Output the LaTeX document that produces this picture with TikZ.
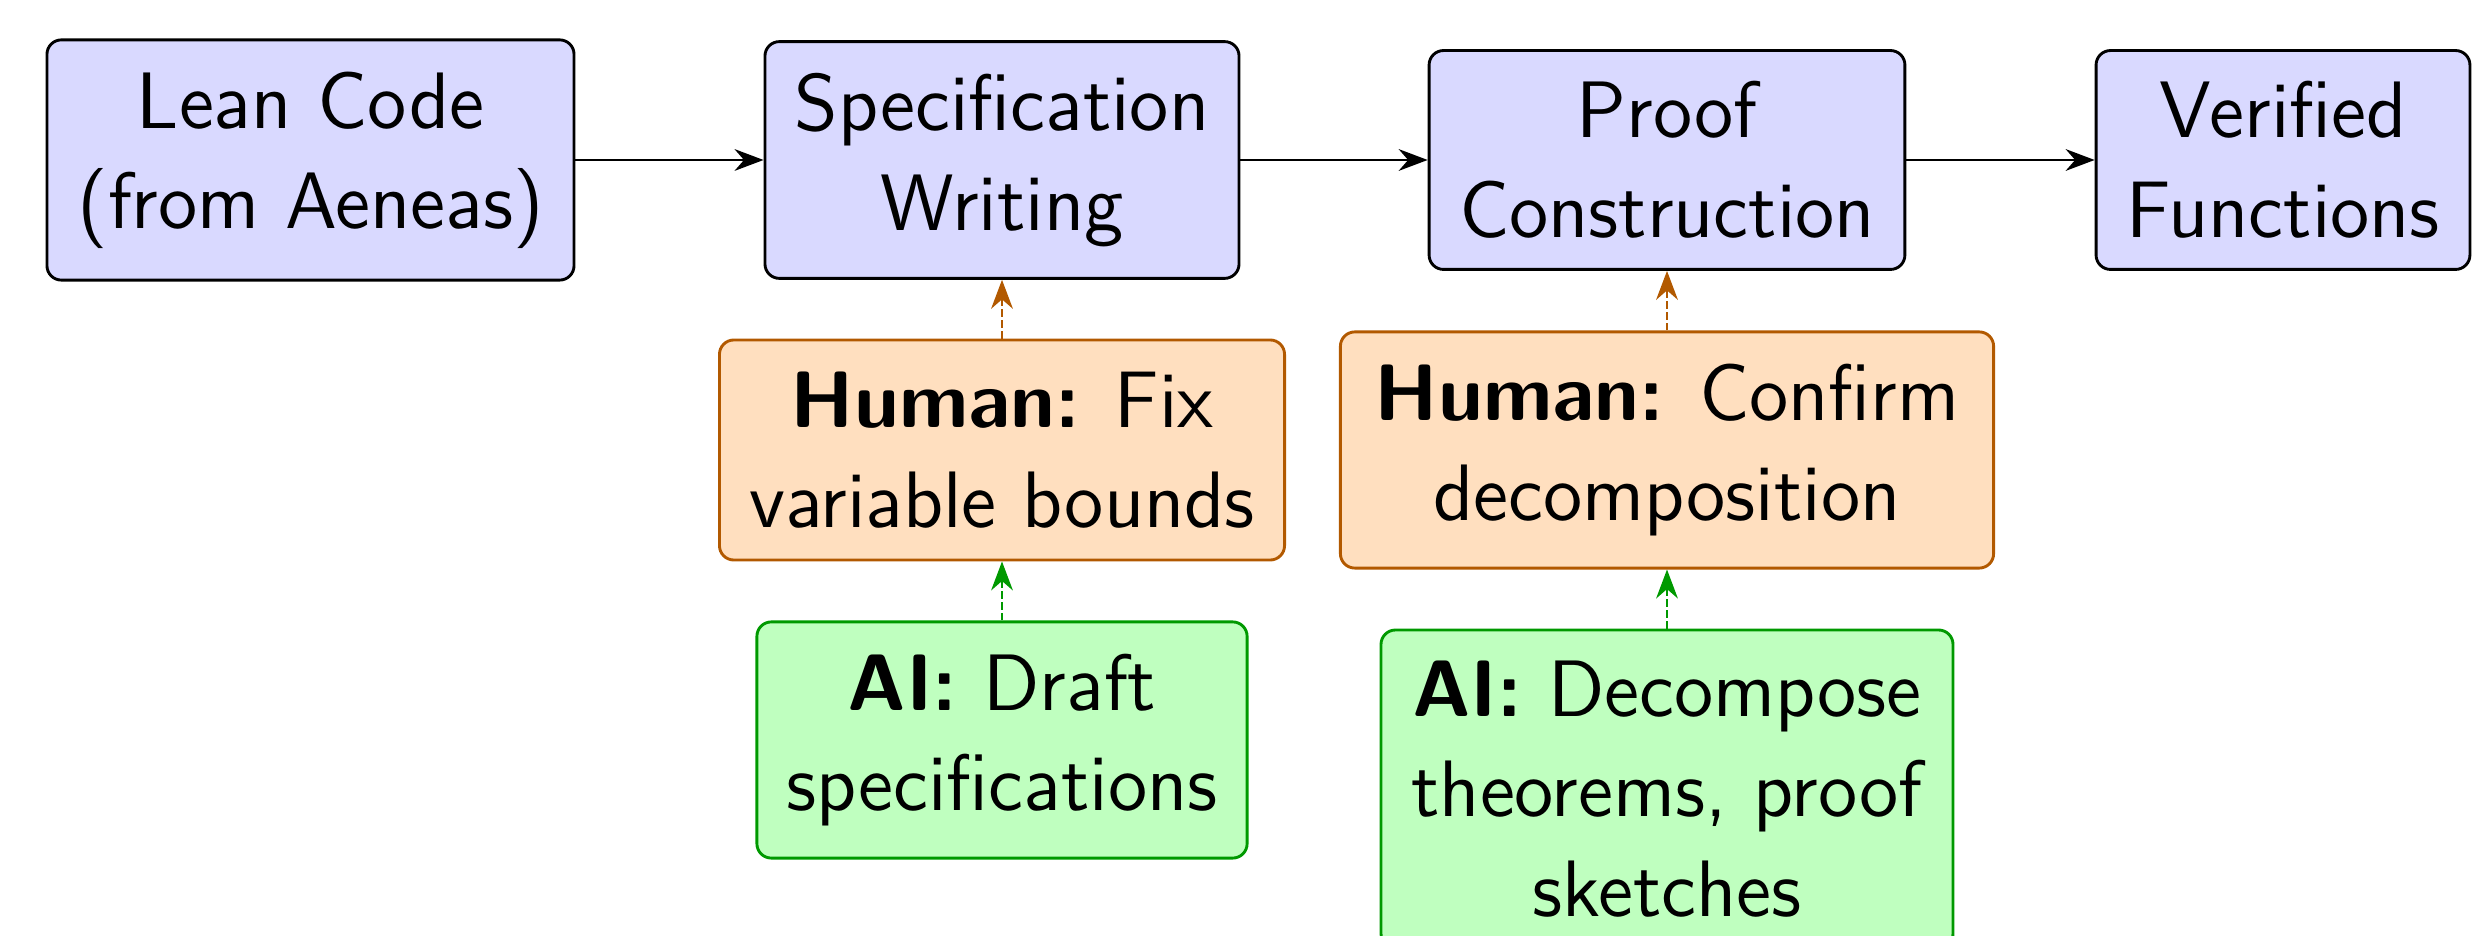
\documentclass[tikz,border=0pt]{standalone}
\usetikzlibrary{arrows.meta}

\definecolor{stepfill}{rgb}{0.85,0.85,1}
\colorlet{humanfill}{orange!25}
\colorlet{humanline}{orange!70!black}
\colorlet{aifill}{green!25}
\colorlet{ailine}{green!60!black}

\tikzset{
  box/.style={rounded corners=2.5pt, align=center, line width=0.5pt,
    inner xsep=1pt, inner ysep=2pt,
    font=\sffamily\fontsize{13.9}{17.4}\selectfont},
  stepbox/.style={box, draw=black, fill=stepfill},
  humanbox/.style={box, draw=humanline, fill=humanfill},
  aibox/.style={box, draw=ailine, fill=aifill},
  flow/.style={-{Stealth}, line width=0.45pt, black},
  assist/.style={-{Stealth}, line width=0.45pt, dash pattern=on 1.25pt off 0.65pt},
}

\begin{document}
\begin{tikzpicture}[x=0.17360pt, y=-0.17360pt]
  \useasboundingbox (0,0) rectangle (2477,936);
  \clip (0,0) rectangle (2477,936);

  % main pipeline
  \node[stepbox, minimum width=91.5pt, minimum height=41.7pt] (lean) at (310.5,160)
    {Lean Code\\(from Aeneas)};
  \node[stepbox, minimum width=82.3pt, minimum height=41.1pt] (spec) at (1002,160)
    {Specification\\Writing};
  \node[stepbox, minimum width=82.6pt, minimum height=38.0pt] (proof) at (1667,160)
    {Proof\\Construction};
  \node[stepbox, minimum width=64.9pt, minimum height=38.0pt] (done) at (2283,160)
    {Verified\\Functions};

  % human checks
  \node[humanbox, minimum width=98.1pt, minimum height=38.2pt] (hspec) at (1002,450)
    {\textbf{Human:} Fix\\variable bounds};
  \node[humanbox, minimum width=113.4pt, minimum height=41.0pt] (hproof) at (1667,450)
    {\textbf{Human:} Confirm\\decomposition};

  % AI drafts
  \node[aibox, minimum width=85.1pt, minimum height=41.0pt] (aspec) at (1002,740)
    {\textbf{AI:} Draft\\specifications};
  \node[aibox, minimum width=99.3pt, minimum height=55.2pt] (aproof) at (1667,789)
    {\textbf{AI:} Decompose\\theorems, proof\\sketches};

  % connectors
  \draw[flow] (lean.east) -- (spec.west);
  \draw[flow] (spec.east) -- (proof.west);
  \draw[flow] (proof.east) -- (done.west);

  \draw[assist, humanline] (hspec.north) -- (spec.south);
  \draw[assist, humanline] (hproof.north) -- (proof.south);
  \draw[assist, ailine] (aspec.north) -- (hspec.south);
  \draw[assist, ailine] (aproof.north) -- (hproof.south);
\end{tikzpicture}
\end{document}
